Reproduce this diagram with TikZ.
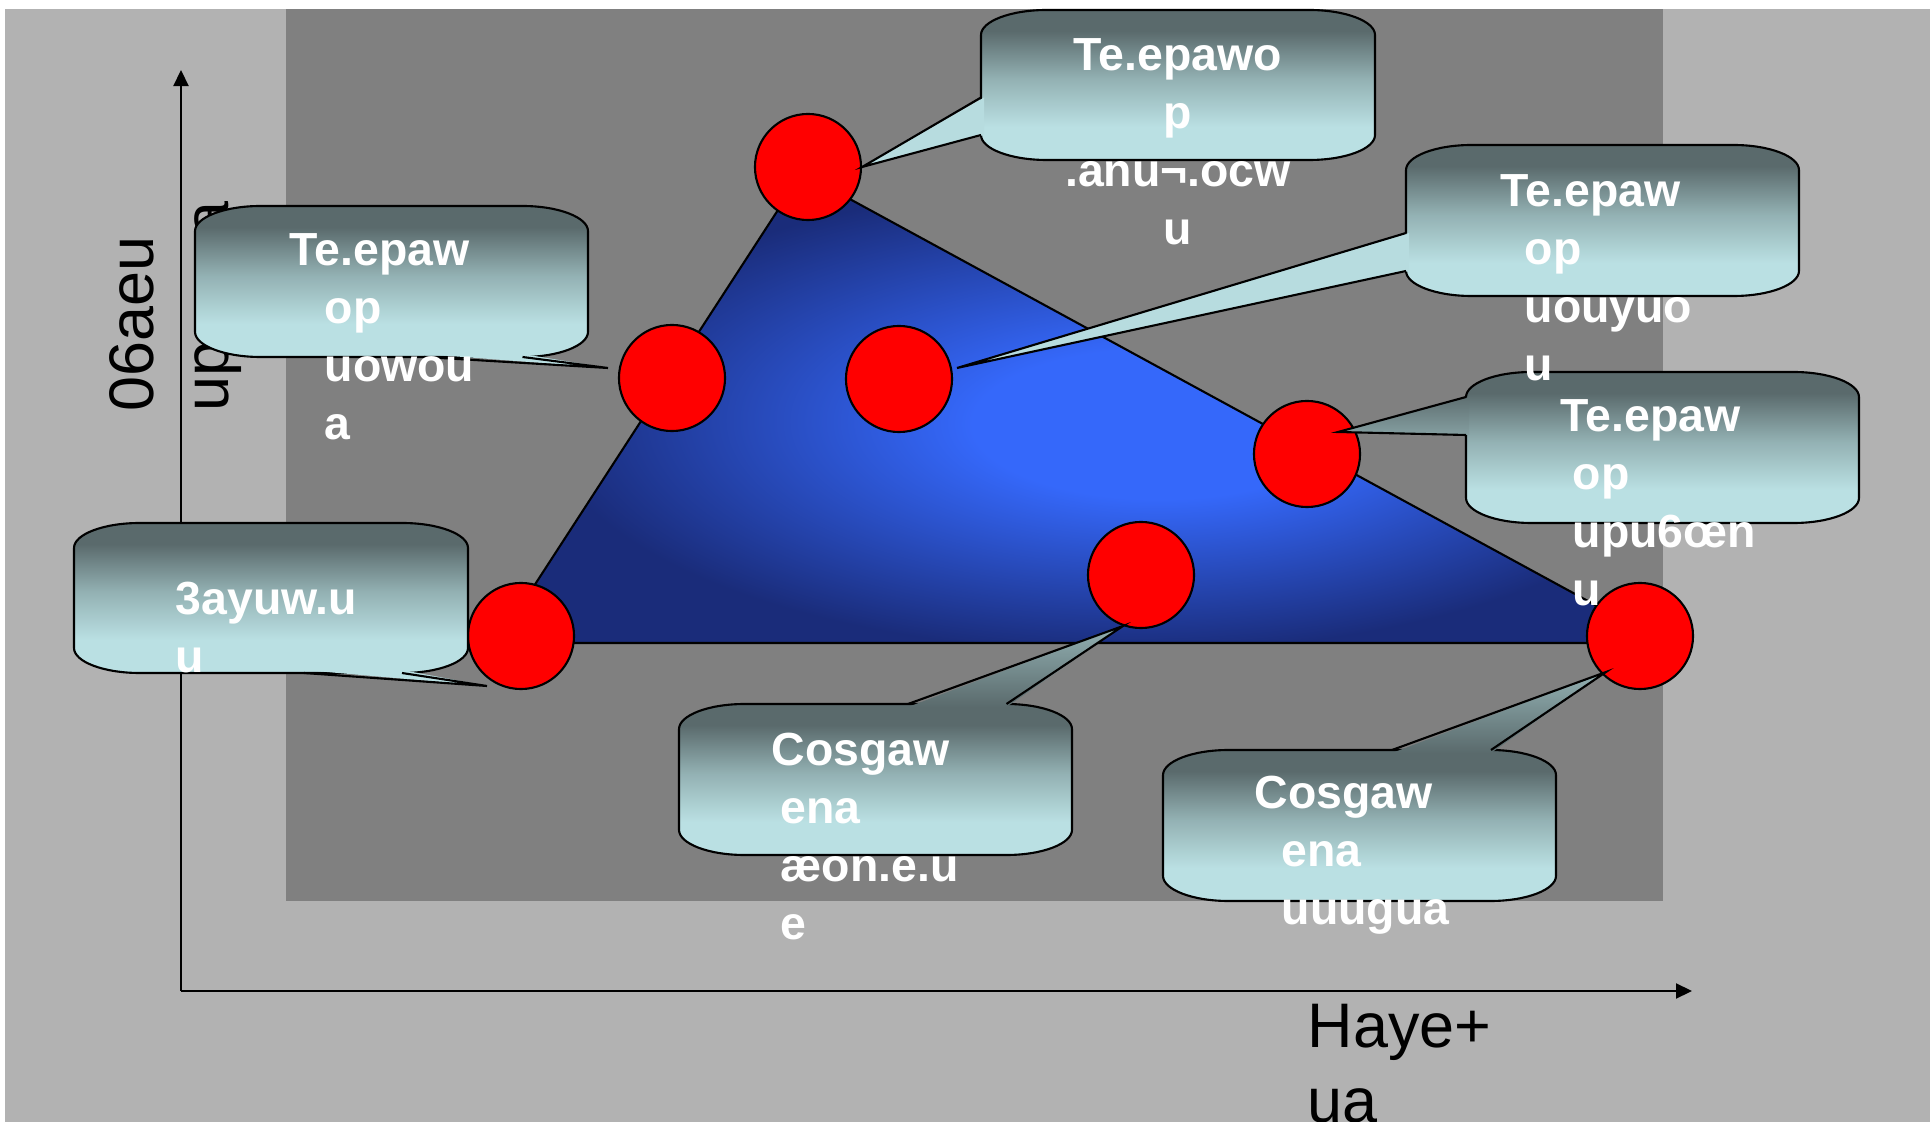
\documentclass[tikz,border=0pt]{standalone}
\usepackage{fontspec}
\setmainfont{Liberation Sans}
\usepackage{xcolor}
\usepackage{tikz}
\usetikzlibrary{arrows.meta}

\definecolor{paneouter}{HTML}{B2B2B2}
\definecolor{paneinner}{HTML}{808080}
\definecolor{bubbledark}{HTML}{5A6A6C}
\definecolor{bubblemid}{HTML}{93B1B3}
\definecolor{bubblelight}{HTML}{BAE0E3}
\definecolor{deepblue}{HTML}{1A2C7A}
\definecolor{glowblue}{HTML}{3568FA}

\pgfdeclareverticalshading{bubbleshade}{100bp}{color(0bp)=(bubblelight); color(36bp)=(bubblelight); color(52bp)=(bubblemid); color(68bp)=(bubbledark); color(100bp)=(bubbledark)}
\pgfdeclareradialshading{triangleglow}{\pgfpoint{4bp}{-2bp}}{color(0bp)=(glowblue); color(8bp)=(glowblue); color(25bp)=(deepblue); color(50bp)=(deepblue)}

% rounded box of a callout, corners 1/6 of width and height
\newcommand{\bubblebox}[4]{%
  \pgfmathsetmacro{\brx}{(#3-#1)/6}%
  \pgfmathsetmacro{\bry}{(#4-#2)/6}%
  \path[bubble] (#1+\brx,#2) -- (#3-\brx,#2)
    .. controls (#3-0.45*\brx,#2) and (#3,#2+0.45*\bry) .. (#3,#2+\bry)
    -- (#3,#4-\bry)
    .. controls (#3,#4-0.45*\bry) and (#3-0.45*\brx,#4) .. (#3-\brx,#4)
    -- (#1+\brx,#4)
    .. controls (#1+0.45*\brx,#4) and (#1,#4-0.45*\bry) .. (#1,#4-\bry)
    -- (#1,#2+\bry)
    .. controls (#1,#2+0.45*\bry) and (#1+0.45*\brx,#2) .. cycle;%
}

\begin{document}
\begin{tikzpicture}[
    x=0.01cm, y=-0.01cm,
    axis/.style={-{Triangle[length=0.16cm, width=0.15cm]}, line width=0.6pt},
    dot/.style={circle, draw, fill=red, line width=0.6pt, minimum size=1.06cm, inner sep=0pt},
    bubble/.style={shade, shading=bubbleshade, draw, line width=0.6pt},
    tail/.style={draw, line width=0.6pt},
    note/.style={text=white, font=\fontsize{13.2}{16.4}\selectfont\bfseries, inner sep=0pt,
                 text width=4cm, align=left, anchor=base west},
    axislabel/.style={font=\fontsize{17.9}{21.6}\selectfont, inner sep=0pt,
                      text width=3cm, align=left, anchor=base west},
]
    % Background
    \fill[white] (0,0) rectangle (1930,1122);
    \fill[paneouter] (5,9) rectangle (1930,1122);
    \fill[paneinner] (286,9) rectangle (1663,901);
    \useasboundingbox (0,0) rectangle (1930,1122);

    % Axis labels
    \node[axislabel, rotate=90] (ylabel) at (153,412) {06aeu\\upoqua};
    \node[axislabel] (xlabel) at (1307,1047) {Haye+\\ua};

    % Axes
    \coordinate (origin) at (181,991);
    \coordinate (ytop) at (181,70);
    \coordinate (xend) at (1692,991);
    \draw[axis] (origin) -- (ytop);
    \draw[axis] (origin) -- (xend);

    % Triangle
    \coordinate (tritop) at (802,173);
    \coordinate (trileft) at (497,643);
    \coordinate (triright) at (1665,643);
    \path[shade, shading=triangleglow, draw, line width=0.6pt] (tritop) -- (trileft) -- (triright) -- cycle;

    % Points
    \node[dot] (apex) at (808,167) {};
    \node[dot] (leftedge) at (672,378) {};
    \node[dot] (inner) at (899,379) {};
    \node[dot] (rightedge) at (1307,454) {};
    \node[dot] (lowmid) at (1141,575) {};
    \node[dot] (leftcorner) at (521,636) {};
    \node[dot] (rightcorner) at (1640,636) {};

    % Callout tips
    \coordinate (tipleftedge) at (608,368);
    \coordinate (tipinner) at (957,368);
    \coordinate (tiprightedge) at (1338,432);
    \coordinate (tipleftcorner) at (487,686);
    \coordinate (tiplowmid) at (1123,626);
    \coordinate (tiprightcorner) at (1606,672);

    % Callouts
    \bubblebox{981}{10}{1375}{160}
    \fill[bubblelight!92!bubblemid] (984,97.5) -- (apex.east) -- (984,135) -- cycle;
    \draw[tail] (981,97.5) -- (apex.east) -- (981,135);

    \bubblebox{195}{206}{588}{357}
    \fill[bubblelight] (424,354) -- (tipleftedge) -- (522.5,354) -- cycle;
    \draw[tail] (424,357) -- (tipleftedge) -- (522.5,357);

    \bubblebox{1466}{372}{1859}{523}
    \shade[top color=bubbledark!92!bubblemid, bottom color=bubblemid!75!bubbledark]
        (1469,397) -- (tiprightedge) -- (1469,435) -- cycle;
    \draw[tail] (1466,397) -- (tiprightedge) -- (1466,435);

    \bubblebox{1406}{145}{1799}{296}
    \fill[bubblelight!92!bubblemid] (1409,233) -- (tipinner) -- (1409,271) -- cycle;
    \draw[tail] (1406,233) -- (tipinner) -- (1406,271);

    \bubblebox{74}{523}{468}{673}
    \fill[bubblelight] (304,670) -- (tipleftcorner) -- (402,670) -- cycle;
    \draw[tail] (304,673) -- (tipleftcorner) -- (402,673);

    \bubblebox{679}{704}{1072}{855}
    \shade[top color=bubblemid, bottom color=bubbledark] (908,707) -- (tiplowmid) -- (1006.5,707) -- cycle;
    \draw[tail] (908,704) -- (tiplowmid) -- (1006.5,704);

    \bubblebox{1163}{750}{1556}{901}
    \shade[top color=bubblemid, bottom color=bubbledark] (1392,753) -- (tiprightcorner) -- (1491,753) -- cycle;
    \draw[tail] (1392,750) -- (tiprightcorner) -- (1491,750);

    % Callout texts
    \node[note, align=center, anchor=base] (noteapex) at (1178,71) {Te.epawo\\p\\.anu¬.ocw\\u};
    \node[note] (noteleftedge) at (289,266) {Te.epaw\\\hspace*{0.35cm}op\\\hspace*{0.35cm}uowou\\\hspace*{0.35cm}a};
    \node[note] (noteinner) at (1500,207) {Te.epaw\\\hspace*{0.24cm}op\\\hspace*{0.24cm}uouyuo\\\hspace*{0.24cm}u};
    \node[note] (noterightedge) at (1560,432) {Te.epaw\\\hspace*{0.12cm}op\\\hspace*{0.12cm}upu6œn\\\hspace*{0.12cm}u};
    \node[note] (noteleftcorner) at (175,615) {3ayuw.u\\u};
    \node[note] (notelowmid) at (771,766) {Cosgaw\\\hspace*{0.09cm}ena\\\hspace*{0.09cm}æon.e.u\\\hspace*{0.09cm}e};
    \node[note] (noterightcorner) at (1254,809) {Cosgaw\\\hspace*{0.27cm}ena\\\hspace*{0.27cm}uuugua};
\end{tikzpicture}
\end{document}
